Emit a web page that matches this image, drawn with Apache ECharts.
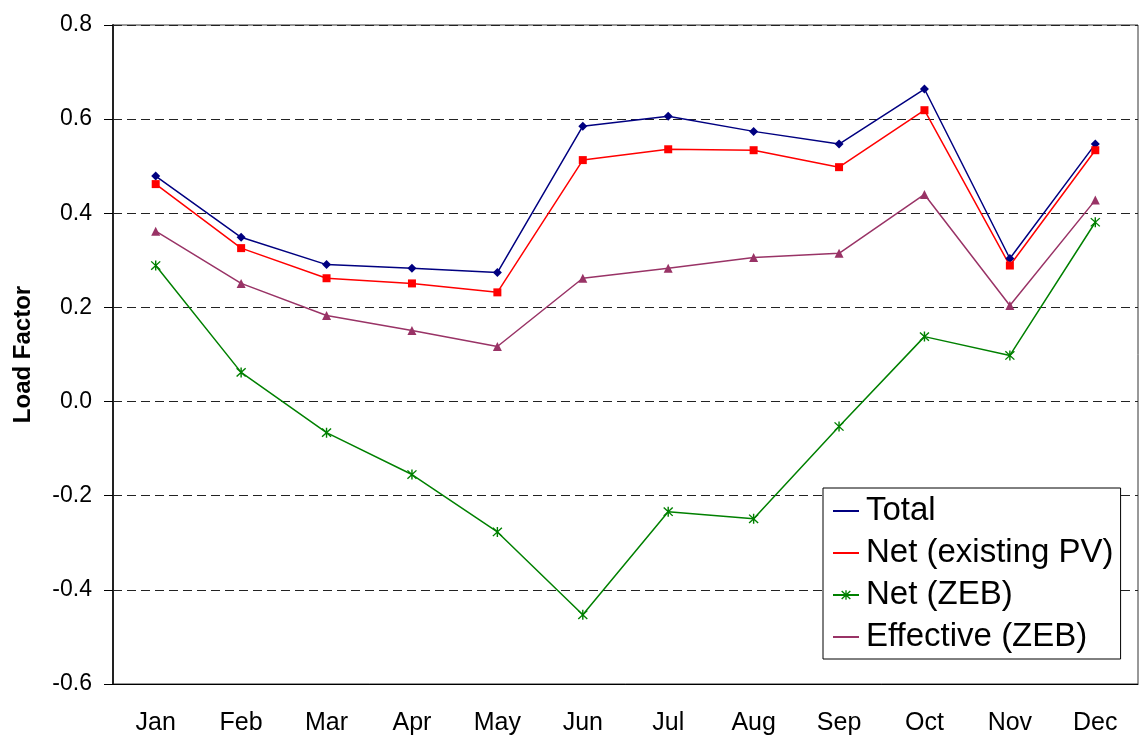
<!DOCTYPE html>
<html>
<head>
<meta charset="utf-8">
<script src="https://cdn.jsdelivr.net/npm/echarts@6/dist/echarts.min.js"></script>
<style>
  html, body { margin: 0; padding: 0; background: #fff; }
  #chart { width: 1143px; height: 740px; }
</style>
</head>
<body>
<div id="chart"></div>
<script>
// months on the x axis
var months = ["Jan", "Feb", "Mar", "Apr", "May", "Jun", "Jul", "Aug", "Sep", "Oct", "Nov", "Dec"];

// load factor series
var total = [0.479, 0.349, 0.291, 0.283, 0.274, 0.585, 0.606, 0.574, 0.547, 0.664, 0.304, 0.547];
var netExistingPV = [0.462, 0.326, 0.262, 0.251, 0.232, 0.513, 0.536, 0.534, 0.498, 0.619, 0.289, 0.534];
var netZEB = [0.289, 0.062, -0.066, -0.155, -0.277, -0.453, -0.234, -0.249, -0.053, 0.138, 0.098, 0.381];
var effectiveZEB = [0.362, 0.251, 0.183, 0.151, 0.117, 0.262, 0.283, 0.306, 0.315, 0.440, 0.204, 0.428];

var fontFamily = "'Liberation Sans', Arial, sans-serif";

// asterisk marker like the excel "star"
var starSymbol = "path://M4.35,0H5.65V10H4.35Z M0.4,1.3L1.3,0.4L9.6,8.7L8.7,9.6Z M8.7,0.4L9.6,1.3L1.3,9.6L0.4,8.7Z";

// hides the marker in the legend, only the line stays
var noMarker = { color: "rgba(0,0,0,0)", borderWidth: 0, opacity: 0 };

function draw_line(id) {
  var char = {
    animation: false,
    backgroundColor: "#fff",
    textStyle: { fontFamily: fontFamily, color: "#000" },
    grid: {
      left: 113,
      right: 5,
      top: 25,
      bottom: 56,
      show: true,
      borderColor: "#333",
      borderWidth: 1,
      backgroundColor: "rgba(0,0,0,0)"
    },
    legend: {
      orient: "vertical",
      left: 823,
      top: 488,
      padding: [5, 7, 4, 9],
      backgroundColor: "#fff",
      borderColor: "#000",
      borderWidth: 1,
      itemWidth: 26,
      itemHeight: 12,
      itemGap: 6,
      textStyle: {
        fontFamily: fontFamily,
        fontSize: 33,
        lineHeight: 36,
        color: "#000",
        padding: [0, 0, 0, 2]
      },
      data: [
        { name: "Total", itemStyle: noMarker },
        { name: "Net (existing PV)", itemStyle: noMarker },
        { name: "Net (ZEB)" },
        { name: "Effective (ZEB)", itemStyle: noMarker }
      ]
    },
    xAxis: {
      type: "category",
      boundaryGap: true,
      data: months,
      axisLine: { onZero: false, lineStyle: { color: "#000", width: 1 } },
      axisTick: { show: false },
      axisLabel: {
        fontSize: 25,
        color: "#000",
        margin: 27,
        fontFamily: fontFamily
      },
      splitLine: { show: false }
    },
    yAxis: {
      type: "value",
      min: -0.6,
      max: 0.8,
      interval: 0.2,
      name: "Load Factor",
      nameLocation: "middle",
      nameGap: 78,
      nameRotate: 90,
      nameTextStyle: {
        fontSize: 24,
        fontWeight: "bold",
        color: "#000",
        fontFamily: fontFamily
      },
      axisLine: { show: true, lineStyle: { color: "#222", width: 2 } },
      axisTick: { show: true, inside: false, length: 9, lineStyle: { color: "#000" } },
      axisLabel: {
        fontSize: 23,
        color: "#000",
        margin: 21,
        fontFamily: fontFamily,
        formatter: function(v) {
          return v.toFixed(1);
        }
      },
      splitLine: {
        show: true,
        lineStyle: { color: "#222", type: [9, 5], width: 1 }
      }
    },
    series: [
      {
        name: "Total",
        type: "line",
        data: total,
        symbol: "diamond",
        symbolSize: 9,
        color: "#000080",
        lineStyle: { width: 1.5, color: "#000080" },
        itemStyle: { color: "#000080" }
      },
      {
        name: "Net (existing PV)",
        type: "line",
        data: netExistingPV,
        symbol: "rect",
        symbolSize: 8,
        color: "#ff0000",
        lineStyle: { width: 1.5, color: "#ff0000" },
        itemStyle: { color: "#ff0000" }
      },
      {
        name: "Net (ZEB)",
        type: "line",
        data: netZEB,
        symbol: starSymbol,
        symbolSize: 10,
        color: "#008000",
        lineStyle: { width: 1.5, color: "#008000" },
        itemStyle: { color: "#008000" }
      },
      {
        name: "Effective (ZEB)",
        type: "line",
        data: effectiveZEB,
        symbol: "triangle",
        symbolSize: 9,
        color: "#993366",
        lineStyle: { width: 1.5, color: "#993366" },
        itemStyle: { color: "#993366" }
      }
    ]
  };
  var charf = echarts.init(document.getElementById(id), null, { renderer: "canvas" });
  charf.setOption(char);
}

draw_line("chart");
</script>
</body>
</html>
